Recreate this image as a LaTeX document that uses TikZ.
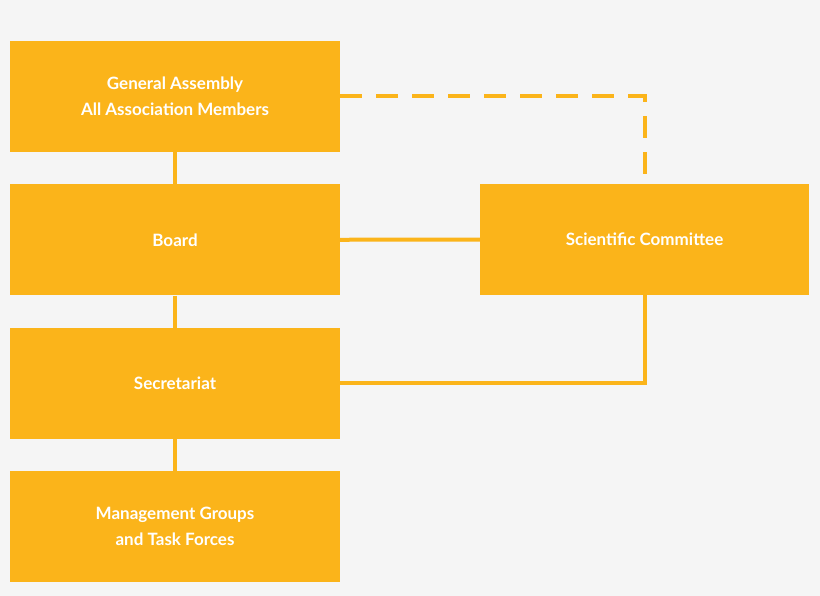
\documentclass[tikz,border=0pt]{standalone}
\usepackage{fontspec}
\setmainfont{Lato}
\usetikzlibrary{positioning}
\definecolor{boxyellow}{HTML}{FBB41A}
\definecolor{bgrey}{HTML}{F5F5F5}
\tikzstyle{block} = [fill=boxyellow, rectangle, text=white, font=\bfseries\fontsize{17}{26}\selectfont,
    align=center, minimum height=111pt, minimum width=330pt, inner sep=0pt]
\tikzstyle{link} = [draw=boxyellow, line width=4pt]

\begin{document}
\begin{tikzpicture}[x=1pt,y=-1pt]
  \fill[bgrey] (0,0) rectangle (820,596);

  \node [block] (assembly) at (175,96.5) {General Assembly\\All Association Members};
  \node [block,below=32pt of assembly] (board) {Board};
  \node [block,below=32pt of board] (secretariat) {Secretariat};
  \node [block,below=32pt of secretariat] (groups) {Management Groups\\and Task Forces};
  \node [block,minimum width=329pt] (committee) at (644.5,239.5) {Scientific Committee};

  \coordinate (topturn) at (committee.north |- assembly.east);
  \coordinate (botturn) at (committee.south |- secretariat.east);

  \draw [link] (assembly) -- (board);
  \draw [link] (board) -- (secretariat);
  \draw [link] (secretariat) -- (groups);
  \draw [link] (board) -- (committee);
  \draw [link] (secretariat.east) -- (botturn) -- (committee.south);
  \draw [link, dash pattern=on 22pt off 14pt] (assembly.east) -- (topturn) -- (committee.north);
\end{tikzpicture}
\end{document}
